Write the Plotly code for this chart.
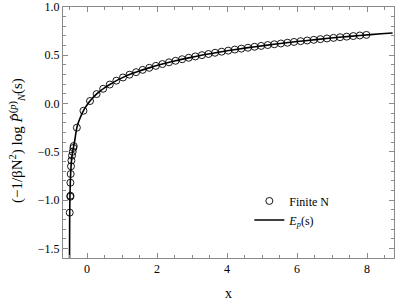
import plotly.graph_objects as go

# Finite N data (circles)
finite_x = [-0.494, -0.476, -0.474, -0.474, -0.466, -0.457, -0.446, -0.429, -0.409, -0.389, -0.380,
            -0.290, -0.102, 0.086, 0.274, 0.462, 0.650, 0.838, 1.026, 1.214, 1.402, 1.590,
            1.778, 1.966, 2.154, 2.342, 2.530, 2.718, 2.906, 3.094, 3.282, 3.470, 3.658,
            3.846, 4.034, 4.222, 4.410, 4.598, 4.786, 4.974, 5.162, 5.350, 5.538, 5.726,
            5.914, 6.102, 6.290, 6.478, 6.666, 6.854, 7.042, 7.230, 7.418, 7.606, 7.794, 7.982]
finite_y = [-1.13, -0.965, -0.955, -0.82, -0.73, -0.65, -0.59, -0.54, -0.50, -0.46, -0.44,
            -0.25, -0.075, 0.026, 0.098, 0.153, 0.197, 0.237, 0.270, 0.299, 0.325, 0.349,
            0.370, 0.390, 0.409, 0.427, 0.443, 0.459, 0.474, 0.488, 0.501, 0.513, 0.526,
            0.537, 0.548, 0.559, 0.569, 0.578, 0.588, 0.597, 0.606, 0.614, 0.622, 0.630,
            0.638, 0.646, 0.653, 0.660, 0.667, 0.674, 0.680, 0.687, 0.693, 0.699, 0.705, 0.711]

# E_p(s) curve
curve_x = [-0.4995, -0.498, -0.496, -0.494, -0.491, -0.487, -0.482, -0.476, -0.47, -0.462,
           -0.452, -0.44, -0.425, -0.41, -0.39, -0.37, -0.345, -0.32, -0.29, -0.25, -0.2,
           -0.15, -0.1, -0.05, 0.0, 0.08, 0.17, 0.27, 0.38, 0.5, 0.65, 0.83, 1.03, 1.25,
           1.5, 1.8, 2.1, 2.5, 2.9, 3.3, 3.8, 4.3, 4.8, 5.4, 6.0, 6.6, 7.2, 7.8, 8.4, 8.73]
curve_y = [-1.75, -1.45, -1.25, -1.13, -1.04, -0.96, -0.88, -0.81, -0.75, -0.69,
           -0.63, -0.58, -0.535, -0.50, -0.46, -0.42, -0.37, -0.31, -0.25, -0.20, -0.152,
           -0.11, -0.074, -0.043, -0.015, 0.024, 0.061, 0.097, 0.132, 0.163, 0.197, 0.235, 0.271, 0.305,
           0.338, 0.372, 0.404, 0.441, 0.473, 0.502, 0.534, 0.563, 0.589, 0.616, 0.642, 0.665, 0.686, 0.705, 0.723, 0.731]

x_ticks = [0, 2, 4, 6, 8]
y_ticks = [-1.5, -1.0, -0.5, 0.0, 0.5, 1.0]

FONT = "Liberation Serif, Times New Roman, Times, serif"

fig = go.Figure()
fig.add_trace(go.Scatter(
    x=finite_x, y=finite_y, mode="markers", name="Finite N",
    marker=dict(symbol="circle-open", size=7, color="black", line=dict(width=0.9, color="black")),
))
fig.add_trace(go.Scatter(
    x=curve_x, y=curve_y, mode="lines", name="<i>E<sub>p</sub></i>(s)",
    line=dict(color="black", width=1.6, shape="spline", smoothing=0.6),
))

axis_common = dict(
    showgrid=False, zeroline=False, showline=True, linecolor="#8a8a8a", linewidth=1,
    mirror="ticks", ticks="inside", ticklen=5, tickcolor="#8a8a8a", tickwidth=1,
    tickfont=dict(family=FONT, size=12, color="black"), automargin=False,
)

fig.update_layout(
    width=399, height=302,
    margin=dict(l=63, r=5, t=7, b=44),
    paper_bgcolor="white", plot_bgcolor="white",
    font=dict(family=FONT, size=12, color="black"),
    showlegend=True,
    legend=dict(x=0.563, y=0.285, xanchor="left", yanchor="top",
                bgcolor="rgba(0,0,0,0)", font=dict(family=FONT, size=12),
                tracegroupgap=0),
    xaxis=dict(range=[-0.686, 8.77], tickvals=x_ticks, ticktext=[str(v) for v in x_ticks],
               minor=dict(dtick=0.5, ticks="inside", ticklen=3, tickcolor="#8a8a8a"),
               title=dict(text="x", font=dict(family=FONT, size=14), standoff=12),
               **axis_common),
    yaxis=dict(range=[-1.6, 1.0], tickvals=y_ticks, ticktext=[f"{v:.1f}".replace("-", "\u2212") for v in y_ticks],
               minor=dict(dtick=0.1, ticks="inside", ticklen=3, tickcolor="#8a8a8a"),
               **axis_common),
    annotations=[dict(
        text="(\u22121/\u03b2N<sup>2</sup>) log <i>P\u0302</i><sup>(<i>p</i>)</sup><sub><i>N</i></sub>(s)",
        xref="paper", yref="paper", x=-0.139, y=0.47, xanchor="center", yanchor="middle",
        textangle=-90, showarrow=False, font=dict(family=FONT, size=15, color="black"),
    )],
)

fig.write_html("out.html", config={"displayModeBar": False},
               post_script="document.body.style.margin='0';document.body.style.overflow='hidden';")
